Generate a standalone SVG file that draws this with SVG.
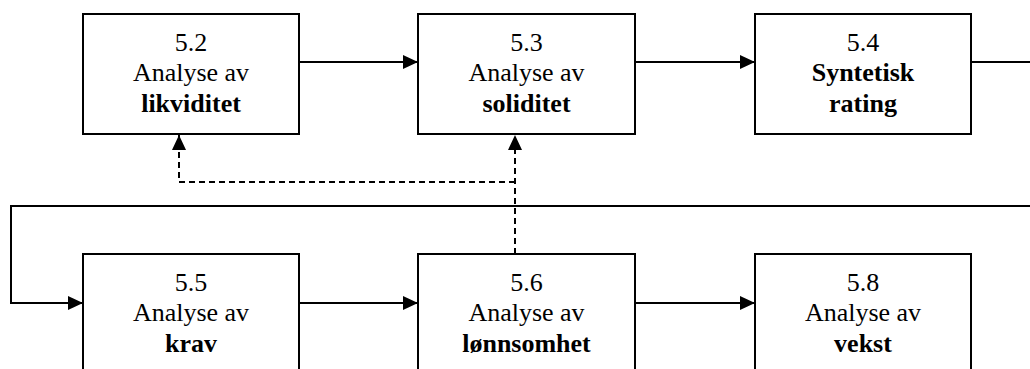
<svg xmlns="http://www.w3.org/2000/svg" width="1030" height="369" viewBox="0 0 1030 369">
<style>
.box{fill:#fff;stroke:#000;stroke-width:2}
.t{font-family:"Liberation Serif","Times New Roman",serif;font-size:26px;text-anchor:middle;fill:#000}
.b{font-weight:bold}
.c{fill:none;stroke:#000;stroke-width:2}
.d{stroke-dasharray:6 4}
</style>
<defs>
<marker id="ah" markerUnits="userSpaceOnUse" markerWidth="15" markerHeight="14" refX="15" refY="7" orient="auto">
<path d="M0,0 L15,7 L0,14 z" fill="#000"/>
</marker>
</defs>
<rect width="1030" height="369" fill="#fff"/>
<g id="connectors">
<path class="c" d="M299,62 H418" marker-end="url(#ah)"/>
<path class="c" d="M635,62 H755" marker-end="url(#ah)"/>
<path class="c" d="M971,62 H1040 V206 H11 V303 H83" marker-end="url(#ah)"/>
<path class="c" d="M299,303 H418" marker-end="url(#ah)"/>
<path class="c" d="M635,303 H755" marker-end="url(#ah)"/>
<path class="c d" d="M515,254 V135" marker-end="url(#ah)"/>
<path class="c d" d="M515,182 H179 V135" marker-end="url(#ah)"/>
</g>
<g id="n52">
<rect class="box" x="83" y="14" width="216" height="120"/>
<text class="t" x="191" y="50.5">5.2</text>
<text class="t" x="191" y="80.5">Analyse av</text>
<text class="t b" x="191" y="111.5">likviditet</text>
</g>
<g id="n53">
<rect class="box" x="418" y="14" width="217" height="120"/>
<text class="t" x="526.5" y="50.5">5.3</text>
<text class="t" x="526.5" y="80.5">Analyse av</text>
<text class="t b" x="526.5" y="111.5">soliditet</text>
</g>
<g id="n54">
<rect class="box" x="755" y="14" width="216" height="120"/>
<text class="t" x="863" y="50.5">5.4</text>
<text class="t b" x="863" y="80.5">Syntetisk</text>
<text class="t b" x="863" y="111.5">rating</text>
</g>
<g id="n55">
<rect class="box" x="83" y="254" width="216" height="140"/>
<text class="t" x="191" y="290.5">5.5</text>
<text class="t" x="191" y="320.5">Analyse av</text>
<text class="t b" x="191" y="351.5">krav</text>
</g>
<g id="n56">
<rect class="box" x="418" y="254" width="217" height="140"/>
<text class="t" x="526.5" y="290.5">5.6</text>
<text class="t" x="526.5" y="320.5">Analyse av</text>
<text class="t b" x="526.5" y="351.5">lønnsomhet</text>
</g>
<g id="n58">
<rect class="box" x="755" y="254" width="216" height="140"/>
<text class="t" x="863" y="290.5">5.8</text>
<text class="t" x="863" y="320.5">Analyse av</text>
<text class="t b" x="863" y="351.5">vekst</text>
</g>
</svg>
